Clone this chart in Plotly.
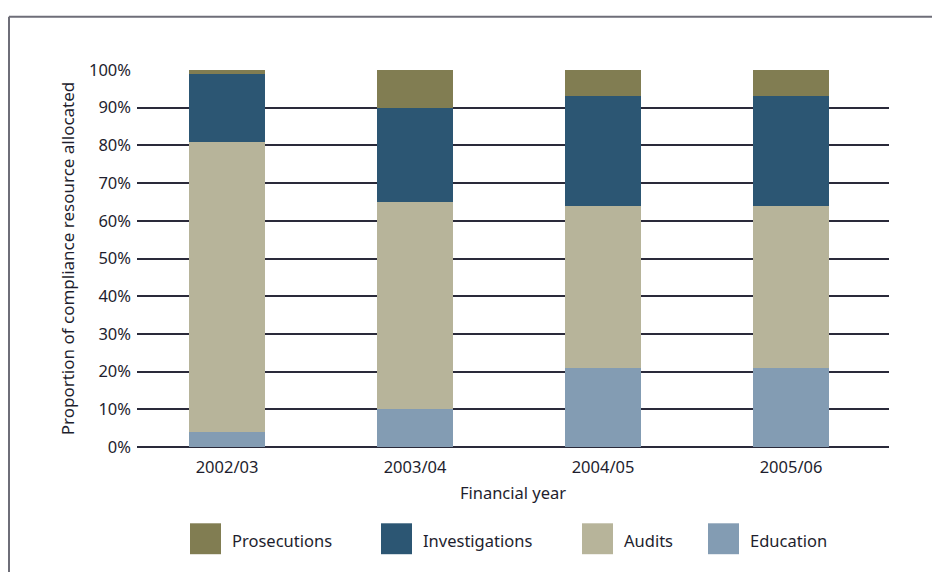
import plotly.graph_objects as go

# Compliance resource allocation by financial year (percent of total)
years = ["2002/03", "2003/04", "2004/05", "2005/06"]
education = [4, 10, 21, 21]
audits = [77, 55, 43, 43]
investigations = [18, 25, 29, 29]
prosecutions = [1, 10, 7, 7]

series = [
    ("Education", education, "#839cb3"),
    ("Audits", audits, "#b7b49a"),
    ("Investigations", investigations, "#2c5673"),
    ("Prosecutions", prosecutions, "#817d52"),
]

W, H = 932, 572
L, R, T, B = 137, 889, 69.5, 447.5
FONT = "Noto Sans"
TXT = "#1e1e2e"
FS = 16.5


def px(x):
    return (x - L) / (R - L)


def py(y):
    return (B - y) / (B - T)


fig = go.Figure()
xs = list(range(len(years)))
for name, vals, col in series:
    fig.add_trace(go.Bar(
        x=xs, y=vals, name=name, marker=dict(color=col, line=dict(width=0)),
        width=0.404, showlegend=False,
    ))

shapes = [
    # outer frame
    dict(type="line", xref="paper", yref="paper", x0=px(9), x1=px(9), y0=py(16), y1=py(580),
         line=dict(color="#6e6e78", width=2)),
    dict(type="line", xref="paper", yref="paper", x0=px(9), x1=px(940), y0=py(16), y1=py(16),
         line=dict(color="#6e6e78", width=2)),
]
annotations = []

# legend: Prosecutions, Investigations, Audits, Education
legend_pos = [("Prosecutions", 190), ("Investigations", 381), ("Audits", 582), ("Education", 708)]
colors = {n: c for n, _, c in series}
for name, x0 in legend_pos:
    shapes.append(dict(type="rect", xref="paper", yref="paper",
                       x0=px(x0), x1=px(x0 + 31), y0=py(555), y1=py(524),
                       fillcolor=colors[name], line=dict(width=0)))
    annotations.append(dict(xref="paper", yref="paper", x=px(x0 + 40), y=py(541.5),
                            text=name, showarrow=False, xanchor="left", yanchor="middle",
                            font=dict(family=FONT, size=FS, color=TXT)))

fig.update_layout(
    width=W, height=H,
    margin=dict(l=L, r=W - R, t=T, b=H - B),
    paper_bgcolor="white", plot_bgcolor="white",
    barmode="stack",
    font=dict(family=FONT, size=FS, color=TXT),
    shapes=shapes, annotations=annotations,
    xaxis=dict(
        range=[-0.479, 3.521], tickmode="array", tickvals=xs, ticktext=years,
        showgrid=False, zeroline=False, showline=False, ticks="",
        tickfont=dict(size=FS, color=TXT), ticklabelstandoff=8,
        title=dict(text="Financial year", font=dict(size=FS, color=TXT), standoff=10),
    ),
    yaxis=dict(
        range=[0, 100], tickvals=list(range(0, 101, 10)),
        ticktext=[f"{v}%" for v in range(0, 101, 10)],
        showgrid=True, gridcolor="#2a2a3a", gridwidth=1.5,
        zeroline=True, zerolinecolor="#2a2a3a", zerolinewidth=1.5,
        showline=False, ticks="", tickfont=dict(size=FS, color=TXT),
        ticklabelstandoff=5,
        title=dict(text="Proportion of compliance resource allocated",
                   font=dict(size=17, color=TXT), standoff=10),
    ),
)

fig.write_html("out.html")
